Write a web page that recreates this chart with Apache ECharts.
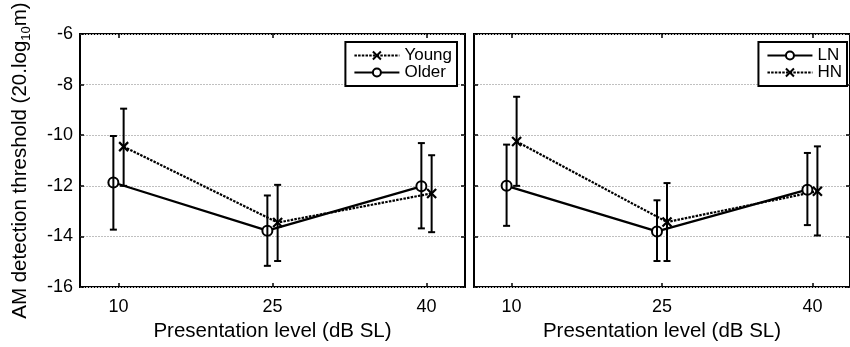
<!DOCTYPE html>
<html>
<head>
<meta charset="utf-8">
<script src="https://cdn.jsdelivr.net/npm/echarts@6/dist/echarts.min.js"></script>
<style>html,body{margin:0;padding:0;background:#fff}#c{width:850px;height:347px}</style>
</head>
<body>
<div id="c"></div>
<script>
// ---- data ----
const levels = [10, 25, 40];
const xTicks = [10, 25, 40];
const yTicks = [-6, -8, -10, -12, -14, -16];

const youngMean = [-10.45, -13.45, -12.30];
const youngLow  = [-12.00, -14.97, -13.83];
const youngHigh = [-8.95, -11.96, -10.79];

const olderMean = [-11.87, -13.77, -12.02];
const olderLow  = [-13.73, -15.16, -13.68];
const olderHigh = [-10.03, -12.38, -10.31];

const lnMean = [-12.00, -13.80, -12.15];
const lnLow  = [-13.58, -14.97, -13.55];
const lnHigh = [-10.37, -12.57, -10.70];

const hnMean = [-10.25, -13.43, -12.21];
const hnLow  = [-12.00, -14.97, -13.96];
const hnHigh = [-8.48, -11.89, -10.44];

// ---- styling ----
const FONT = 'Liberation Sans, Arial, sans-serif';
const OFF = 0.5; // horizontal jitter between the two groups
const xMin = 6.25, xMax = 43.75, yMin = -16, yMax = -6;
const crossPath = 'path://M0,0L10,10M10,0L0,10';

function xAxes(gi, showName) {
  return [{
    type: 'value', gridIndex: gi, min: xMin, max: xMax, position: 'bottom',
    axisLine: {show: false},
    splitLine: {show: false},
    axisTick: {show: true, inside: true, length: 4, customValues: xTicks, lineStyle: {color: '#000', width: 1.5}},
    axisLabel: {show: true, customValues: xTicks, color: '#000', fontSize: 18, fontFamily: FONT, margin: 11},
    name: showName ? 'Presentation level (dB SL)' : '',
    nameLocation: 'middle', nameGap: 29,
    nameTextStyle: {color: '#000', fontSize: 20.5, fontFamily: FONT}
  }, {
    type: 'value', gridIndex: gi, min: xMin, max: xMax, position: 'top',
    axisLine: {show: false}, splitLine: {show: false},
    axisTick: {show: true, inside: true, length: 4, customValues: xTicks, lineStyle: {color: '#000', width: 1.5}},
    axisLabel: {show: false}
  }];
}
function yAxes(gi, showLabels) {
  return [{
    type: 'value', gridIndex: gi, min: yMin, max: yMax, interval: 2, position: 'left',
    axisLine: {show: false},
    splitLine: {show: true, lineStyle: {color: '#c0c0c0', width: 1, type: [2, 1]}},
    axisTick: {show: true, inside: true, length: 4, lineStyle: {color: '#000', width: 1.5}},
    axisLabel: {show: showLabels, color: '#000', fontSize: 18, fontFamily: FONT, margin: 7},
    name: showLabels ? 'AM detection threshold (20.log{sub|10}m)' : '',
    nameLocation: 'middle', nameGap: 47,
    nameTextStyle: {color: '#000', fontSize: 20.5, fontFamily: FONT, lineHeight: 26,
      rich: {sub: {fontSize: 13, fontFamily: FONT, color: '#000', verticalAlign: 'bottom', lineHeight: 13}}}
  }, {
    type: 'value', gridIndex: gi, min: yMin, max: yMax, interval: 2, position: 'right',
    axisLine: {show: false}, splitLine: {show: false},
    axisTick: {show: true, inside: true, length: 4, lineStyle: {color: '#000', width: 1.5}},
    axisLabel: {show: false}
  }];
}

function pts(mean, off) { return levels.map((l, i) => [l + off, mean[i]]); }
function errData(low, high, off) { return levels.map((l, i) => [l + off, low[i], high[i]]); }

function errRender(params, api) {
  const x = api.value(0);
  const lo = api.coord([x, api.value(1)]);
  const hi = api.coord([x, api.value(2)]);
  const w = 3.5;
  const st = {stroke: '#000', lineWidth: 2};
  return {type: 'group', children: [
    {type: 'line', shape: {x1: lo[0], y1: lo[1], x2: hi[0], y2: hi[1]}, style: st},
    {type: 'line', shape: {x1: lo[0] - w, y1: lo[1], x2: lo[0] + w, y2: lo[1]}, style: st},
    {type: 'line', shape: {x1: hi[0] - w, y1: hi[1], x2: hi[0] + w, y2: hi[1]}, style: st}
  ]};
}

function lineSeries(name, mean, off, gi, dotted) {
  return {
    name: name, type: 'line', xAxisIndex: gi * 2, yAxisIndex: gi * 2,
    data: pts(mean, off),
    symbol: dotted ? crossPath : 'emptyCircle',
    symbolSize: dotted ? 9 : 10,
    lineStyle: {color: '#000', width: 2.2, type: dotted ? [2.5, 1.2] : 'solid'},
    itemStyle: {color: '#000', borderColor: '#000', borderWidth: dotted ? 2.2 : 1.8},
    emphasis: {disabled: true}, animation: false, z: 3
  };
}
function errSeries(low, high, off, gi) {
  return {
    type: 'custom', xAxisIndex: gi * 2, yAxisIndex: gi * 2,
    data: errData(low, high, off), encode: {x: 0, y: [1, 2]},
    renderItem: errRender, animation: false, z: 4, silent: true
  };
}

const legendBase = {
  orient: 'vertical', top: 42, itemWidth: 45, itemHeight: 10, itemGap: 0,
  padding: [5, 5, 5, 8], borderColor: '#000', borderWidth: 2, backgroundColor: '#fff',
  textStyle: {color: '#000', fontSize: 17, fontFamily: FONT, lineHeight: 17}, selectedMode: false
};

const option = {
  backgroundColor: '#fff',
  animation: false,
  grid: [
    {left: 80, top: 34, width: 385, height: 263, show: true, borderColor: '#000', borderWidth: 2, backgroundColor: 'transparent'},
    {left: 474, top: 34, width: 385, height: 263, show: true, borderColor: '#000', borderWidth: 2, backgroundColor: 'transparent'}
  ],
  xAxis: [...xAxes(0, true), ...xAxes(1, true)],
  yAxis: [...yAxes(0, true), ...yAxes(1, false)],
  legend: [
    Object.assign({}, legendBase, {data: ['Young', 'Older'], right: 850 - 457}),
    Object.assign({}, legendBase, {data: ['LN', 'HN'], right: 3})
  ],
  series: [
    lineSeries('Young', youngMean, OFF, 0, true),
    lineSeries('Older', olderMean, -OFF, 0, false),
    errSeries(youngLow, youngHigh, OFF, 0),
    errSeries(olderLow, olderHigh, -OFF, 0),
    lineSeries('LN', lnMean, -OFF, 1, false),
    lineSeries('HN', hnMean, OFF, 1, true),
    errSeries(lnLow, lnHigh, -OFF, 1),
    errSeries(hnLow, hnHigh, OFF, 1)
  ]
};
const chart = echarts.init(document.getElementById('c'), null, {renderer: 'canvas'});
chart.setOption(option);
</script>
</body>
</html>
